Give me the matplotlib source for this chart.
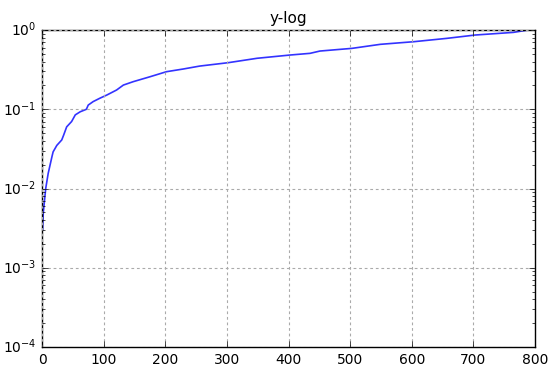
import matplotlib
matplotlib.use("Agg")
import matplotlib.pyplot as plt

# sorted values (index, value)
idx = [1, 2, 6, 10, 16, 18, 24, 32, 35, 40, 48, 54, 62, 72, 75, 83, 94, 105,
       121, 132, 148, 175, 202, 229, 256, 302, 349, 403, 435, 451, 503, 549,
       603, 657, 703, 765, 788]
vals = [0.003, 0.0049, 0.0100, 0.0155, 0.025, 0.029, 0.035, 0.041, 0.047,
        0.060, 0.070, 0.085, 0.093, 0.100, 0.113, 0.125, 0.138, 0.151, 0.175,
        0.202, 0.223, 0.257, 0.298, 0.322, 0.351, 0.387, 0.440, 0.484, 0.508,
        0.543, 0.587, 0.660, 0.712, 0.785, 0.865, 0.934, 0.998]

plt.style.use('classic')
fig = plt.figure(figsize=(5.5, 3.85), dpi=100)
ax = fig.add_axes([0.0764, 0.0987, 0.8963, 0.8233])
ax.plot(idx, vals, color='#3333ff', linewidth=1.2)
ax.set_yscale('log')
ax.set_xlim(0, 800)
ax.set_ylim(1e-4, 1)
ax.set_title('y-log', fontsize=11)
ax.grid(True, color='#aaaaaa', linestyle=(0, (2, 2)), linewidth=0.8)
ax.tick_params(labelsize=10)

fig.savefig('out.png', dpi=100)
